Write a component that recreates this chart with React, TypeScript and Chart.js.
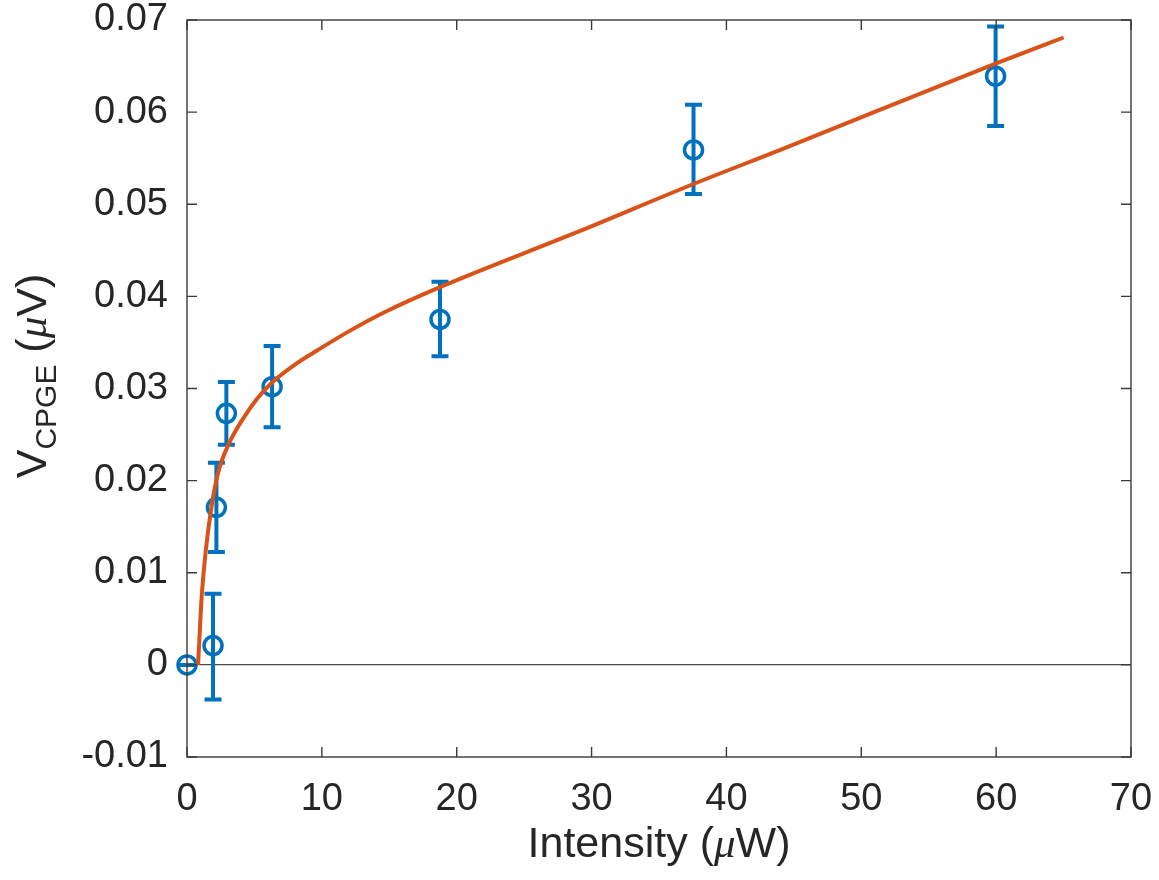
import React, { useEffect, useRef } from 'react';
import { Chart, registerables } from 'chart.js';

Chart.register(...registerables);

// Measured data (Intensity in µW, V_CPGE in µV)
const intensity = [0, 1.93, 2.18, 2.92, 6.31, 18.76, 37.56, 59.96];
const vcpge = [0, 0.0021, 0.0171, 0.0273, 0.0302, 0.0375, 0.0559, 0.0639];
const errLower = [0, 0.00585, 0.00485, 0.0034, 0.0044, 0.004, 0.0048, 0.0054];
const errUpper = [0, 0.00563, 0.00485, 0.0034, 0.0044, 0.0041, 0.0049, 0.0054];

// Fit curve
const fitX = [0.82, 0.94, 1.07, 1.37, 1.81, 2.3, 3.04, 4.28, 5.2, 6.27, 8.0, 9.73, 12.0, 14.68, 18.76, 29.15, 37.56, 44.0, 60, 65];
const fitY = [0, 0.0034, 0.007, 0.0121, 0.0171, 0.0208, 0.0238, 0.027, 0.0289, 0.0306, 0.0326, 0.0342, 0.0362, 0.0383, 0.041, 0.0471, 0.0522, 0.0559, 0.0653, 0.0681];

// Axis ticks
const xTicks = [0, 10, 20, 30, 40, 50, 60, 70];
const xTickLabels = ['0', '10', '20', '30', '40', '50', '60', '70'];
const yTicks = [-0.01, 0, 0.01, 0.02, 0.03, 0.04, 0.05, 0.06, 0.07];
const yTickLabels = ['-0.01', '0', '0.01', '0.02', '0.03', '0.04', '0.05', '0.06', '0.07'];

const FONT = "'Liberation Sans', Arial, Helvetica, sans-serif";
const SERIF = "'Liberation Serif', 'Times New Roman', serif";
const TEXT = '#262626';
const AXIS = '#3a3a3a';
const BLUE = '#0072BD';
const ORANGE = '#D95319';

export default function App() {
  const ref = useRef<HTMLCanvasElement>(null);

  useEffect(() => {
    const canvas = ref.current;
    if (!canvas) return;

    const errPlugin = {
      id: 'errbars',
      beforeDatasetsDraw(chart: any) {
        const { ctx } = chart;
        const x = chart.scales.x;
        const y = chart.scales.y;
        ctx.save();
        ctx.strokeStyle = BLUE;
        ctx.lineWidth = 4;
        ctx.lineCap = 'butt';
        intensity.forEach((xv, i) => {
          const px = x.getPixelForValue(xv);
          const top = y.getPixelForValue(vcpge[i] + errUpper[i]);
          const bot = y.getPixelForValue(vcpge[i] - errLower[i]);
          ctx.beginPath();
          ctx.moveTo(px, top);
          ctx.lineTo(px, bot);
          ctx.moveTo(px - 8.5, top);
          ctx.lineTo(px + 8.5, top);
          ctx.moveTo(px - 8.5, bot);
          ctx.lineTo(px + 8.5, bot);
          ctx.stroke();
        });
        ctx.restore();
      },
    };

    const framePlugin = {
      id: 'frame',
      afterDraw(chart: any) {
        const { ctx, chartArea } = chart;
        const { left, right, top, bottom } = chartArea;
        const x = chart.scales.x;
        const y = chart.scales.y;
        ctx.save();
        ctx.strokeStyle = AXIS;
        ctx.lineWidth = 1.4;
        ctx.strokeRect(left, top, right - left, bottom - top);
        const TL = 10;
        ctx.beginPath();
        xTicks.forEach((v) => {
          const px = x.getPixelForValue(v);
          ctx.moveTo(px, bottom);
          ctx.lineTo(px, bottom - TL);
          ctx.moveTo(px, top);
          ctx.lineTo(px, top + TL);
        });
        yTicks.forEach((v) => {
          const py = y.getPixelForValue(v);
          ctx.moveTo(left, py);
          ctx.lineTo(left + TL, py);
          ctx.moveTo(right, py);
          ctx.lineTo(right - TL, py);
        });
        ctx.stroke();

        // X title: Intensity (µW)
        ctx.fillStyle = TEXT;
        ctx.textBaseline = 'alphabetic';
        ctx.textAlign = 'left';
        const fMain = `43px ${FONT}`;
        const fMu = `italic 43px ${SERIF}`;
        const xParts: [string, string][] = [
          ['Intensity (', fMain],
          ['\u03BC', fMu],
          ['W)', fMain],
        ];
        let w = 0;
        xParts.forEach(([t, f]) => { ctx.font = f; w += ctx.measureText(t).width; });
        let cx = (left + right) / 2 - w / 2;
        xParts.forEach(([t, f]) => { ctx.font = f; ctx.fillText(t, cx, 857); cx += ctx.measureText(t).width; });

        // Y title: V_CPGE (µV)
        ctx.save();
        ctx.translate(46, 376);
        ctx.rotate(-Math.PI / 2);
        const fSub = `30px ${FONT}`;
        const yParts: [string, string, number][] = [
          ['V', fMain, 0],
          ['CPGE', fSub, 10],
          [' (', fMain, 0],
          ['\u03BC', fMu, 0],
          ['V)', fMain, 0],
        ];
        let wy = 0;
        yParts.forEach(([t, f]) => { ctx.font = f; wy += ctx.measureText(t).width; });
        let cy = -wy / 2;
        yParts.forEach(([t, f, dy]) => { ctx.font = f; ctx.fillText(t, cy, dy); cy += ctx.measureText(t).width; });
        ctx.restore();
        ctx.restore();
      },
    };

    const chart = new Chart(canvas, {
      type: 'scatter',
      data: {
        datasets: [
          {
            type: 'line',
            label: 'fit',
            data: fitX.map((xv, i) => ({ x: xv, y: fitY[i] })),
            borderColor: ORANGE,
            borderWidth: 4,
            pointRadius: 0,
            fill: false,
            cubicInterpolationMode: 'monotone',
            order: 0,
          } as any,
          {
            type: 'scatter',
            label: 'data',
            data: intensity.map((xv, i) => ({ x: xv, y: vcpge[i] })),
            pointStyle: 'circle',
            pointRadius: 9,
            borderWidth: 3.5,
            borderColor: BLUE,
            backgroundColor: 'rgba(0,0,0,0)',
            clip: false,
            order: 1,
          } as any,
        ],
      },
      options: {
        responsive: false,
        animation: false,
        devicePixelRatio: 1,
        layout: { autoPadding: false, padding: { left: 0, top: 20, right: 28, bottom: 0 } },
        plugins: {
          legend: { display: false },
          tooltip: { enabled: false },
        },
        scales: {
          x: {
            type: 'linear',
            min: 0,
            max: 70,
            afterFit: (s: any) => { s.height = 123; s.paddingLeft = 0; s.paddingRight = 0; },
            afterBuildTicks: (s: any) => { s.ticks = xTicks.map((v) => ({ value: v })); },
            ticks: {
              callback: (_v: any, i: number) => xTickLabels[i],
              font: { family: FONT, size: 38, lineHeight: 1 },
              color: TEXT,
              padding: 24,
              maxRotation: 0,
              autoSkip: false,
            },
            grid: { display: false, drawTicks: false },
            border: { display: false },
          },
          y: {
            type: 'linear',
            min: -0.01,
            max: 0.07,
            afterFit: (s: any) => { s.width = 187; s.paddingTop = 0; s.paddingBottom = 0; },
            afterBuildTicks: (s: any) => { s.ticks = yTicks.map((v) => ({ value: v })); },
            ticks: {
              callback: (_v: any, i: number) => yTickLabels[i],
              font: { family: FONT, size: 38, lineHeight: 1 },
              color: TEXT,
              padding: 19,
              autoSkip: false,
            },
            grid: {
              drawTicks: false,
              color: (c: any) => (c.tick && Math.abs(c.tick.value) < 1e-9 ? '#4a4a4a' : 'rgba(0,0,0,0)'),
              lineWidth: 1.2,
            },
            border: { display: false },
          },
        },
      },
      plugins: [errPlugin, framePlugin],
    });

    return () => chart.destroy();
  }, []);

  return (
    <div style={{ position: 'absolute', left: 0, top: 0, width: 1159, height: 880, background: '#ffffff' }}>
      <canvas ref={ref} width={1159} height={880} style={{ display: 'block' }} />
    </div>
  );
}
